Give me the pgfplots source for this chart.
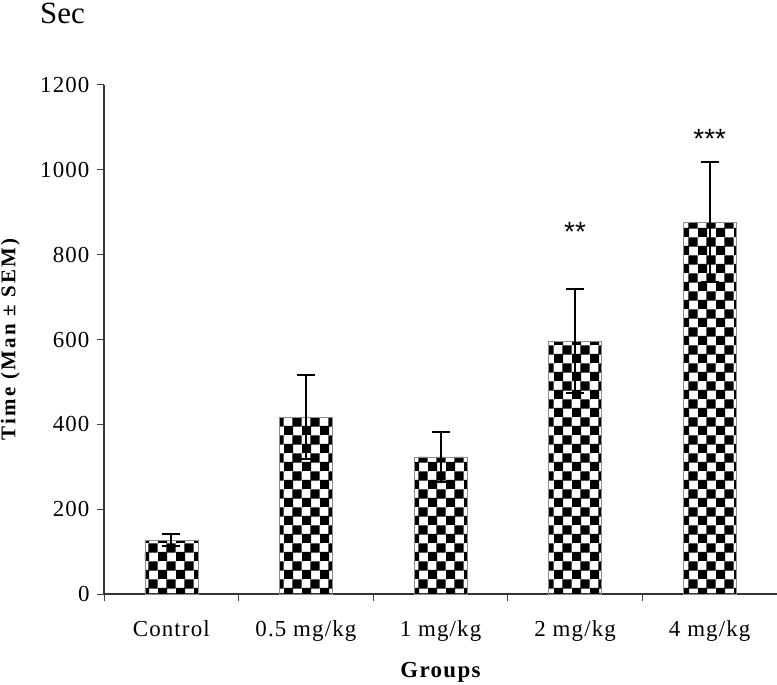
\documentclass[border=0pt]{standalone}
\usepackage{fontspec}
\setmainfont{Liberation Serif}
\newfontfamily\starfont{Liberation Sans}
\usepackage{pgfplots}
\usepackage{pgfplotstable}
\pgfplotsset{compat=1.18}
\usetikzlibrary{patterns}
\pgfdeclarepatternformonly{checks}{\pgfpointorigin}{\pgfpoint{17.6bp}{17.6bp}}{\pgfpoint{17.6bp}{17.6bp}}{%
 \pgfpathrectangle{\pgfpointorigin}{\pgfpoint{9.3bp}{9.3bp}}%
 \pgfpathrectangle{\pgfpoint{8.6bp}{8.6bp}}{\pgfpoint{9.3bp}{9.3bp}}%
 \pgfpathrectangle{\pgfpoint{-0.3bp}{17.3bp}}{\pgfpoint{0.6bp}{0.6bp}}%
 \pgfusepath{fill}}

\pgfplotstableread{
x y err
0 127 14
1 417 99
2 323 59
3 596 123
4 877 141
}\bardata

\pgfplotstableread{
x y label
3 832 {**}
4 1051 {***}
}\stardata

\begin{document}
\begin{tikzpicture}
\useasboundingbox (0,0) rectangle (777bp,685bp);
\node[anchor=base west, inner sep=0, font=\fontsize{31}{31}\selectfont] at (40bp,661bp) {Sec};
\begin{axis}[
 at={(104bp,91bp)}, anchor=south west,
 scale only axis, width=673bp, height=509bp,
 xmin=-0.5, xmax=4.5, ymin=0, ymax=1200,
 axis lines*=left,
 axis line style={line width=1.6bp, color=black!80},
 ytick={0,200,...,1200},
 xtick={0,...,4},
 xticklabels={Control,0.5 mg/kg,1 mg/kg,2 mg/kg,4 mg/kg},
 minor xtick={-0.5,0.5,...,4.5},
 major tick length=7bp, minor tick length=7bp,
 tick align=outside,
 major x tick style={draw=none},
 tick style={line width=1bp, color=black!75},
 /pgf/number format/assume math mode=true,
 /pgf/number format/1000 sep={},
 ticklabel style={font=\fontsize{23}{23}\selectfont\addfontfeature{LetterSpace=5}},
 xticklabel style={anchor=base, yshift=-35bp},
 yticklabel style={anchor=east, xshift=-4bp},
 xlabel={Groups},
 ylabel={Time (Man ± SEM)},
 xlabel style={font=\fontsize{23}{23}\selectfont\bfseries\addfontfeature{LetterSpace=6}, at={(axis description cs:0.5,-0.165)}, anchor=base},
 ylabel style={font=\fontsize{21}{21}\selectfont\bfseries\addfontfeature{LetterSpace=11}, at={(axis description cs:-0.139,0.5)}, anchor=center},
 clip=false,
]
\addplot[ybar, bar width=53bp, draw=black!45, line width=0.6bp,
  pattern=checks, pattern color=black,
  error bars/.cd, y dir=both, y explicit,
  error bar style={line width=2bp, black},
  error mark options={rotate=90, line width=2bp, mark size=9bp, black}]
  table[x=x, y=y, y error=err] {\bardata};
\addplot[draw=none, mark=none, nodes near coords, point meta=explicit symbolic,
  every node near coord/.append style={anchor=base, inner sep=0pt, font=\starfont\fontsize{28}{28}\selectfont}]
  table[x=x, y=y, meta=label] {\stardata};
\end{axis}
\end{tikzpicture}
\end{document}
